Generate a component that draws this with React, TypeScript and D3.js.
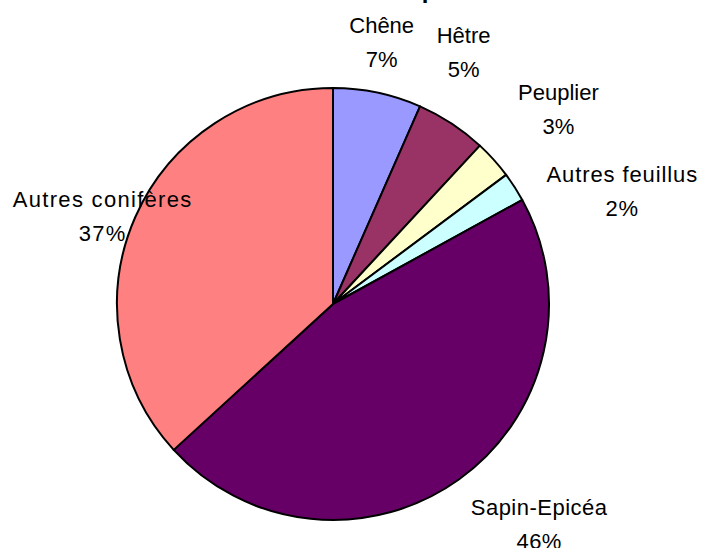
import React from "react";
import * as d3 from "d3";

const categories = ["Chêne", "Hêtre", "Peuplier", "Autres feuillus", "Sapin-Epicéa", "Autres conifères"];
const values = [6.6, 5.3, 2.9, 2.2, 46.2, 36.8];
const colors = ["#9999FF", "#993366", "#FFFFCC", "#CCFFFF", "#660066", "#FF8080"];
const title = "Répartition des essences";

// label layout nudges (relative to a point just outside each slice's mid-angle)
const labelNudge: [number, number][] = [
  [-4, -10],
  [-10, -36],
  [35, -22],
  [74, 27],
  [57, 14],
  [4, 17],
];
const labelSpacing = [0, 0, 0, 0.9, 0.5, 1.3];

const W = 701;
const H = 548;
const cx = 333;
const cy = 304;
const R = 216;

export default function App() {
  const total = d3.sum(values);
  const pie = d3.pie<number>().sort(null).value((d) => d);
  const arcs = pie(values);
  const arc = d3.arc<d3.PieArcDatum<number>>().innerRadius(0).outerRadius(R);
  const font = "'Liberation Sans', Arial, sans-serif";

  return (
    <svg
      width={W}
      height={H}
      style={{ position: "absolute", left: 0, top: 0, display: "block", background: "#fff" }}
    >
      <text x={391} y={-2.5} textAnchor="start" fontFamily={font} fontWeight="bold" fontSize={24} fill="#000">
        {title}
      </text>
      <g transform={`translate(${cx},${cy})`}>
        {arcs.map((a, i) => (
          <path key={i} d={arc(a) || ""} fill={colors[i]} stroke="#000" strokeWidth={2} strokeLinejoin="round" />
        ))}
      </g>
      {arcs.map((a, i) => {
        const mid = (a.startAngle + a.endAngle) / 2;
        const lr = R + 40;
        const bx = cx + Math.sin(mid) * lr + labelNudge[i][0];
        const by = cy - Math.cos(mid) * lr + labelNudge[i][1];
        const pct = Math.round((values[i] / total) * 100) + "%";
        return (
          <text
            key={i}
            textAnchor="middle"
            fontFamily={font}
            fontSize={22}
            fill="#000"
            letterSpacing={labelSpacing[i]}
          >
            <tspan x={bx} y={by - 10.75}>{categories[i]}</tspan>
            <tspan x={bx} y={by + 23.25}>{pct}</tspan>
          </text>
        );
      })}
    </svg>
  );
}
